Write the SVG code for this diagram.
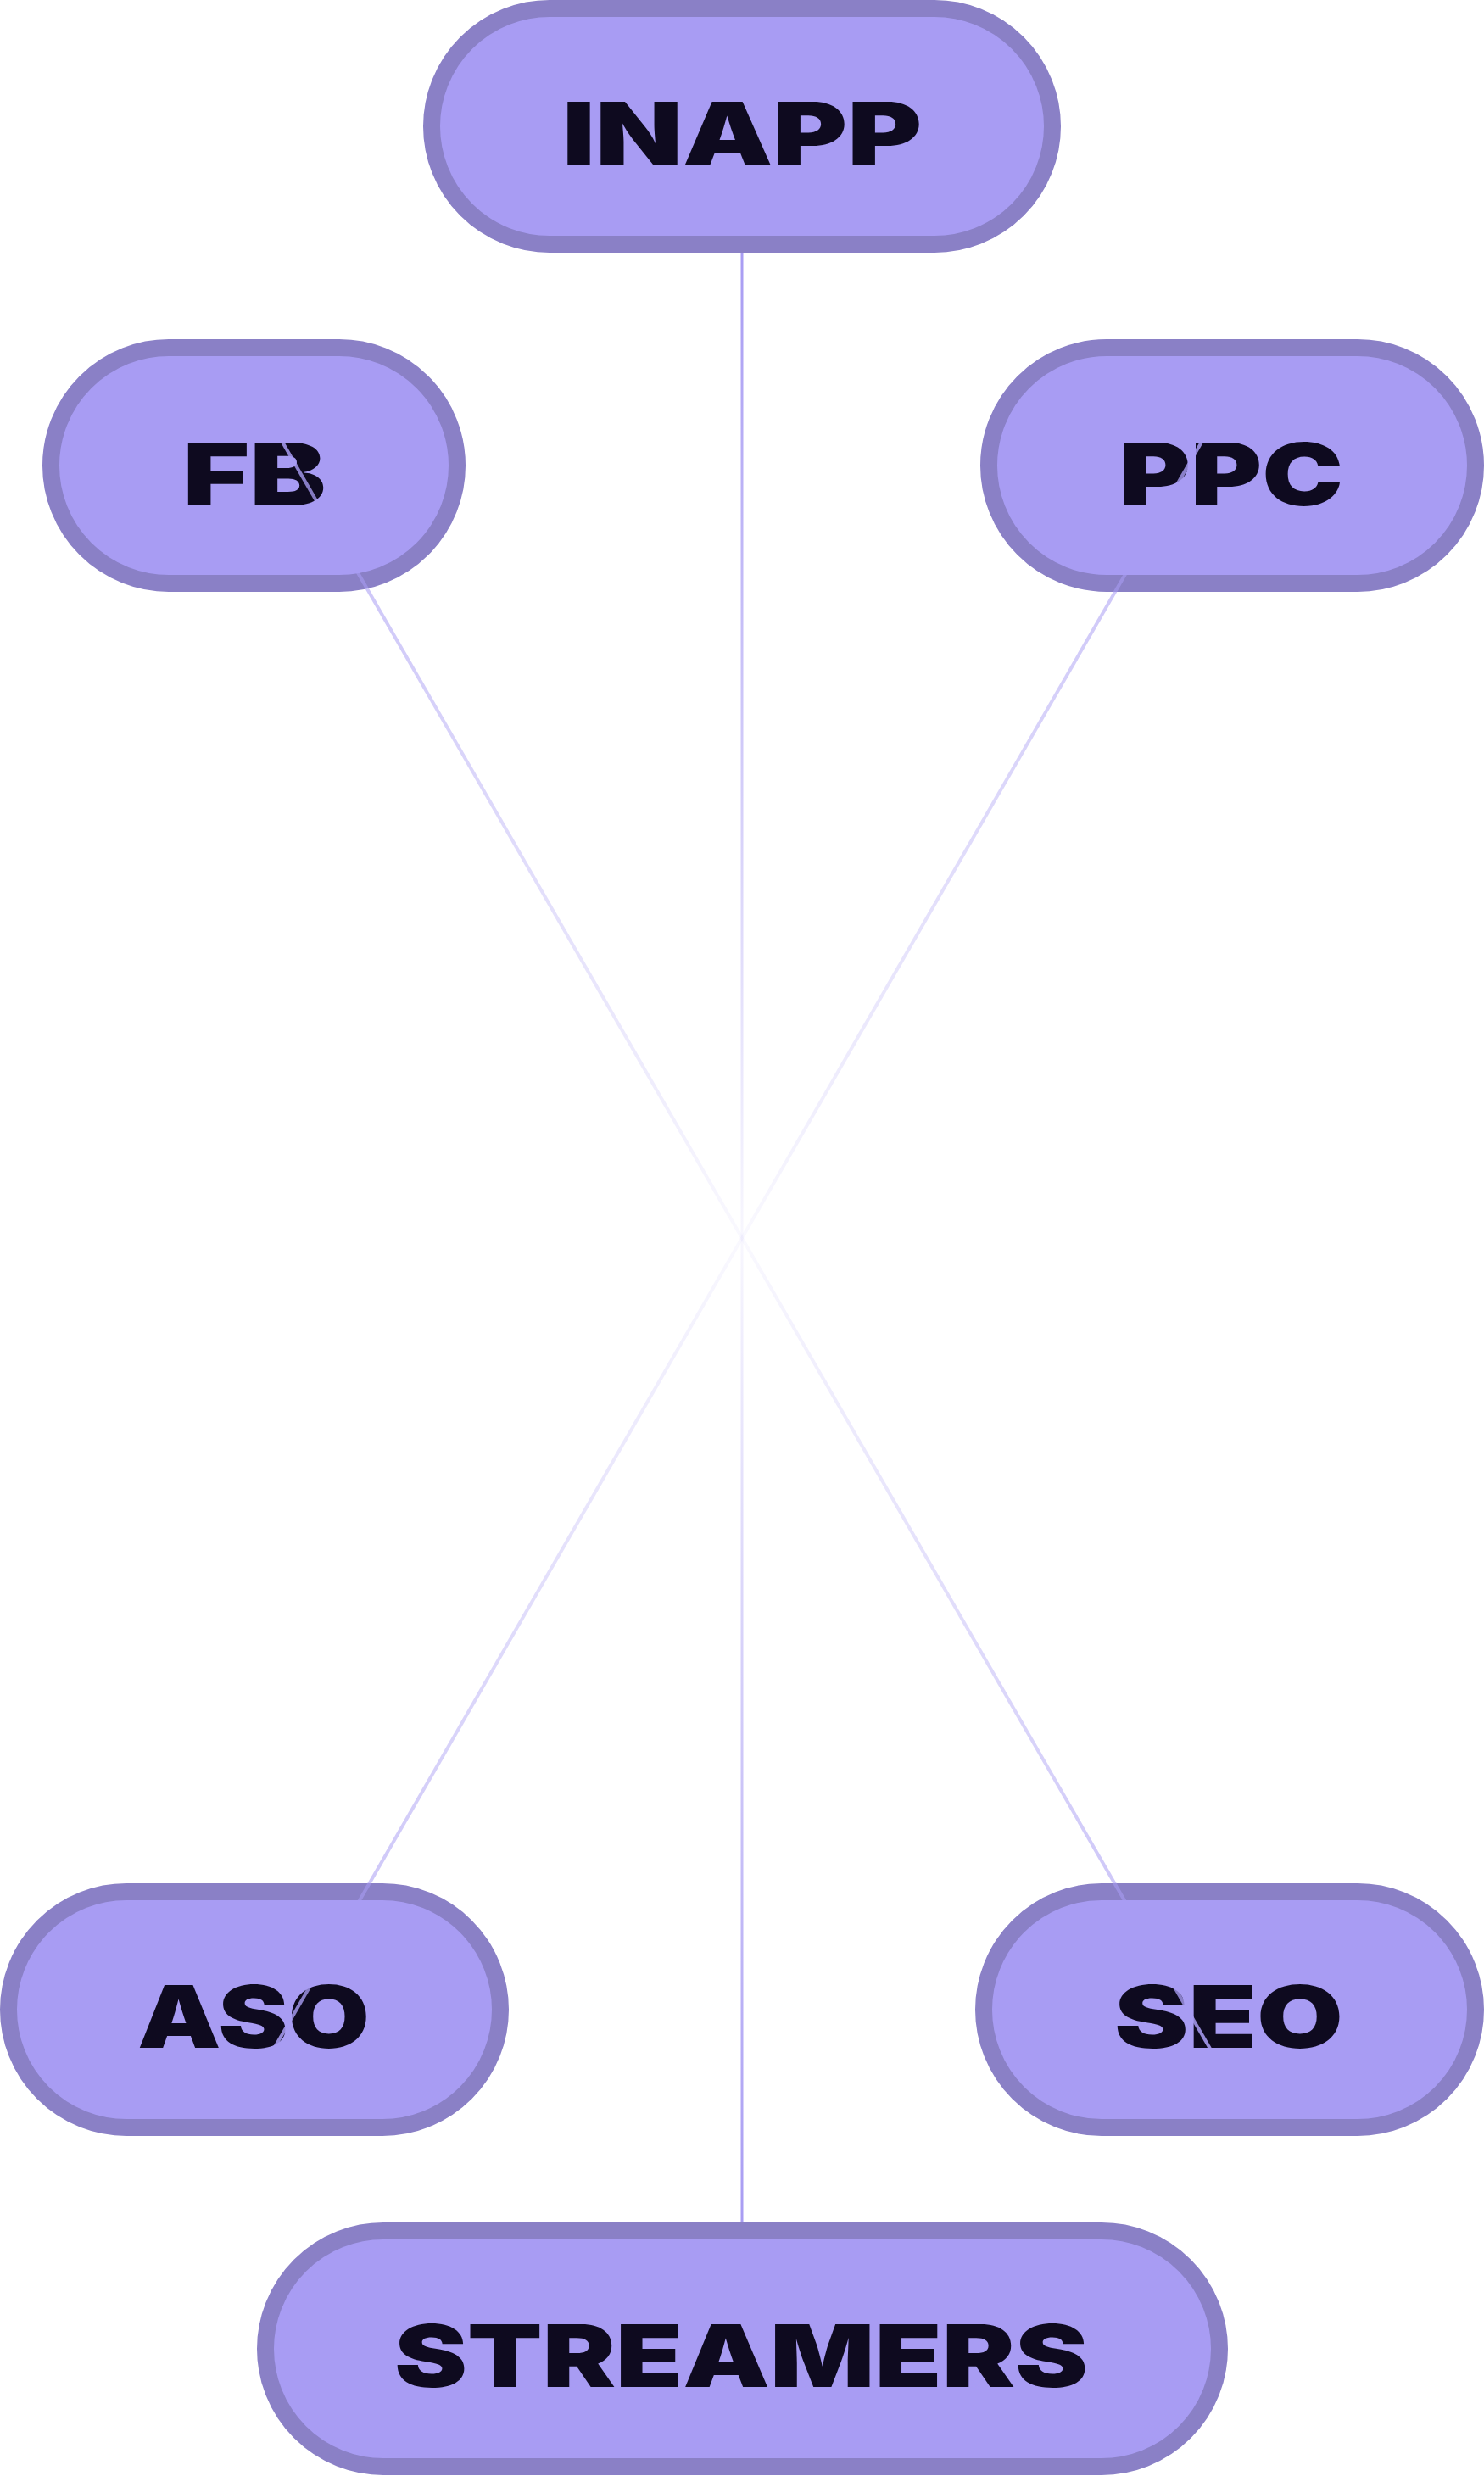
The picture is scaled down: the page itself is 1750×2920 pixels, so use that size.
<svg xmlns="http://www.w3.org/2000/svg" width="1750" height="2920" viewBox="0 0 1750 2920">
<defs>
<style>
.pill{fill:#a89cf3;stroke:#8a80c6;stroke-width:20}
.lbl{font-family:Inter,"Liberation Sans",sans-serif;font-weight:900;font-size:102px;fill:#0e0a1f;text-anchor:middle}
.conn{fill:none;stroke-width:3}
.diag{stroke-width:4}
</style>
<linearGradient id="gv" gradientUnits="userSpaceOnUse" x1="875" y1="298" x2="875" y2="2621">
<stop offset="0" stop-color="#a89cf3" stop-opacity="1"/>
<stop offset="0.5" stop-color="#a89cf3" stop-opacity="0.08"/>
<stop offset="1" stop-color="#a89cf3" stop-opacity="1"/>
</linearGradient>
<linearGradient id="ga" gradientUnits="userSpaceOnUse" x1="303.4" y1="470" x2="1446.6" y2="2450">
<stop offset="0" stop-color="#a89cf3" stop-opacity="0.95"/>
<stop offset="0.12" stop-color="#a89cf3" stop-opacity="0.55"/>
<stop offset="0.5" stop-color="#a89cf3" stop-opacity="0.06"/>
<stop offset="0.88" stop-color="#a89cf3" stop-opacity="0.55"/>
<stop offset="1" stop-color="#a89cf3" stop-opacity="0.95"/>
</linearGradient>
<linearGradient id="gb" gradientUnits="userSpaceOnUse" x1="1446.6" y1="470" x2="303.4" y2="2450">
<stop offset="0" stop-color="#a89cf3" stop-opacity="0.95"/>
<stop offset="0.12" stop-color="#a89cf3" stop-opacity="0.55"/>
<stop offset="0.5" stop-color="#a89cf3" stop-opacity="0.06"/>
<stop offset="0.88" stop-color="#a89cf3" stop-opacity="0.55"/>
<stop offset="1" stop-color="#a89cf3" stop-opacity="0.95"/>
</linearGradient>
</defs>
<rect width="1750" height="2920" fill="#ffffff"/>
<g id="node-inapp">
<rect class="pill" x="509" y="10" width="732" height="278" rx="139"/>
<text class="lbl" x="875" y="194" textLength="424" lengthAdjust="spacingAndGlyphs">INAPP</text>
</g>
<g id="node-fb">
<rect class="pill" x="60" y="410" width="479" height="278" rx="139"/>
<text class="lbl" x="300" y="596" textLength="169" lengthAdjust="spacingAndGlyphs">FB</text>
</g>
<g id="node-ppc">
<rect class="pill" x="1166" y="410" width="574" height="278" rx="139"/>
<text class="lbl" x="1452" y="596" textLength="264" lengthAdjust="spacingAndGlyphs">PPC</text>
</g>
<g id="node-aso">
<rect class="pill" x="10" y="2231" width="580" height="278" rx="139"/>
<text class="lbl" x="299" y="2415" textLength="274" lengthAdjust="spacingAndGlyphs">ASO</text>
</g>
<g id="node-seo">
<rect class="pill" x="1160" y="2231" width="580" height="278" rx="139"/>
<text class="lbl" x="1449" y="2415" textLength="270" lengthAdjust="spacingAndGlyphs">SEO</text>
</g>
<g id="node-streamers">
<rect class="pill" x="313" y="2631" width="1125" height="278" rx="139"/>
<text class="lbl" x="874" y="2815" textLength="818" lengthAdjust="spacingAndGlyphs">STREAMERS</text>
</g>
<g id="connectors">
<line class="conn" x1="875" y1="298" x2="875" y2="2621" stroke="url(#gv)"/>
<line class="conn diag" x1="303.4" y1="470" x2="1446.6" y2="2450" stroke="url(#ga)"/>
<line class="conn diag" x1="1446.6" y1="470" x2="303.4" y2="2450" stroke="url(#gb)"/>
</g>
</svg>
